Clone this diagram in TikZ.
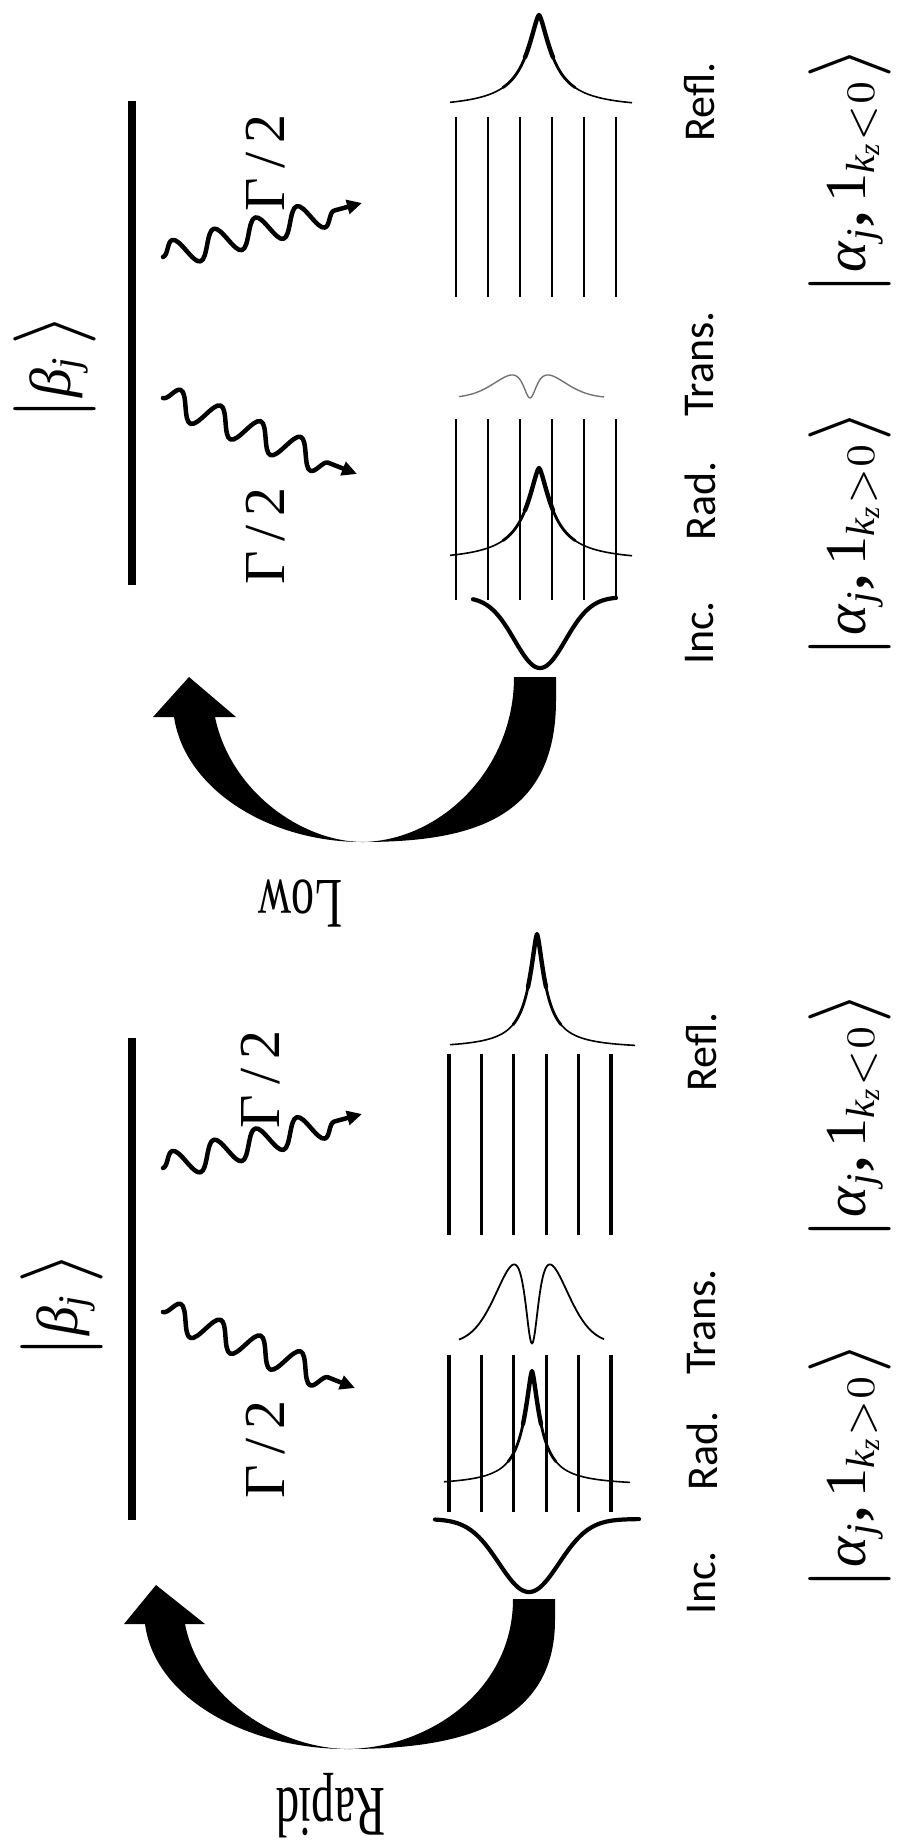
\documentclass[tikz,border=0pt]{standalone}
\usepackage{amsmath}
\usepackage{graphicx}
\usepackage{fontspec}
\setmainfont{Liberation Serif}
\newfontfamily\labfont{Carlito}
\usetikzlibrary{decorations.pathmorphing,arrows.meta}
\newcommand{\fsz}[1]{\fontsize{#1}{#1}\selectfont}
% ket delimiters, set at 10pt and enlarged
\newcommand{\kbar}{\raisebox{-0.9pt}{\scalebox{1.42}{$|$}}}
\newcommand{\kang}{\raisebox{-0.9pt}{\scalebox{1.42}{$\rangle$}}}

\begin{document}
\begin{tikzpicture}[x=1pt,y=-1pt,line join=round,
  declare function={cusp(\x,\g)=1/(1+(abs(\x)/\g)*sqrt(abs(\x)/\g));},
  level/.style={line width=8pt},
  mirror/.style={line width=2.6pt},
  photon/.style={line width=4.5pt,line cap=round,decorate,
    decoration={snake,segment length=43pt,amplitude=14pt,post length=16pt},
    -{Triangle[length=15pt,width=14pt]}},
  tail/.style={line width=1.6pt},
  mid/.style={line width=2.8pt,line cap=round},
  crest/.style={line width=4.4pt,line cap=round},
  dipline/.style={line width=4.2pt,line cap=round},
  lab/.style={font=\labfont\fsz{44},inner sep=0pt,rotate=90},
  gam/.style={font=\fsz{58},inner sep=0pt,rotate=90},
  ket/.style={font=\fsz{10},inner sep=0pt,rotate=90,scale=5.8},
  speed/.style={font=\fsz{46},inner sep=0pt,rotate=180,yscale=1.55},
]
\useasboundingbox (0,0) rectangle (899,1843);

% ================= upper panel (slow decay) =================
% excited level
\draw[level] (132,101) -- (132,585);
\node[ket] (b1) at (55,367) {\kbar\textit{β}$_{\textit{j}}$\,\kang};

% emitted photons
\coordinate (p1a) at (163,257); \coordinate (p1b) at (362,203);
\coordinate (p2a) at (163,398); \coordinate (p2b) at (357,474);
\draw[photon] (p1a) -- (p1b);
\draw[photon] (p2a) -- (p2b);
\node[gam] (g1) at (266,163) {Γ\,/\,2};
\node[gam] (g2) at (266,536) {Γ\,/\,2};

% mirror layers
\foreach \k in {0,...,5} {
  \draw[mirror] ({456+32*\k},117) -- ({456+32*\k},297);
  \draw[mirror] ({456+32*\k},419) -- ({456+32*\k},600);
}

% reflected spectrum
\draw[tail] plot[domain=-89:93,samples=183] ({539+\x},{109-94*cusp(\x,16)});
\draw[mid] plot[domain=-36:36,samples=73] ({539+\x},{109-94*cusp(\x,16)});
\draw[crest] plot[domain=-14:14,samples=29] ({539+\x},{109-94*cusp(\x,16)});
% transmitted spectrum
\draw[line width=1.4pt,black!55] plot[domain=-71:74,samples=146]
  ({530+\x},{398-35.4*exp(-\x*\x/1568)*(\x*\x/(\x*\x+81))});
% radiated spectrum
\draw[tail] plot[domain=-89:93,samples=183] ({539+\x},{562-94*cusp(\x,16)});
\draw[mid] plot[domain=-36:36,samples=73] ({539+\x},{562-94*cusp(\x,16)});
\draw[crest] plot[domain=-14:14,samples=29] ({539+\x},{562-94*cusp(\x,16)});
% incident spectrum
\draw[dipline] plot[domain=473:616,samples=144] (\x,{597+71*exp(-(\x-540)*(\x-540)/1300)});

% pumping arrow
\fill (556,677) -- (556,700) .. controls (556,820) and (470,842) .. (362,842)
  .. controls (270,842) and (185,790) .. (174,717) -- (153,717) -- (189,677)
  -- (236,717) -- (215,717) .. controls (230,790) and (300,841) .. (362,842)
  .. controls (440,841) and (514,770) .. (514,677) -- cycle;
\node[speed] (low) at (300,903) {Low};

% labels
\node[lab] (r1) at (700,102) {Refl.};
\node[lab] (t1) at (700,364) {Trans.};
\node[lab] (d1) at (700,501) {Rad.};
\node[lab] (i1) at (700,633) {Inc.};
\node[ket] (am1) at (850,171) {\kbar\textit{α}$_{\textit{j}}$\textbf{,}\,1$_{\textit{k}_{\textit{z}}<0}$\kang};
\node[ket] (ap1) at (850,534) {\kbar\textit{α}$_{\textit{j}}$\textbf{,}\,1$_{\textit{k}_{\textit{z}}>0}$\kang};

% ================= lower panel (rapid decay) =================
\draw[level] (132,1038) -- (132,1520);
\node[ket] (b2) at (62,1305) {\kbar\textit{β}$_{\textit{j}}$\,\kang};

\coordinate (q1a) at (163,1168); \coordinate (q1b) at (362,1114);
\coordinate (q2a) at (163,1312); \coordinate (q2b) at (355,1388);
\draw[photon] (q1a) -- (q1b);
\draw[photon] (q2a) -- (q2b);
\node[gam] (g3) at (261,1079) {Γ\,/\,2};
\node[gam] (g4) at (266,1449) {Γ\,/\,2};

\foreach \k in {0,...,5} {
  \draw[mirror,line width=3.2pt] ({449+32.4*\k},1054) -- ({449+32.4*\k},1235);
  \draw[mirror,line width=3.2pt] ({449+32.4*\k},1355) -- ({449+32.4*\k},1512);
}

% reflected spectrum
\draw[tail] plot[domain=-87:98,samples=186] ({537+\x},{1049-115*cusp(\x,10)});
\draw[mid] plot[domain=-24:24,samples=49] ({537+\x},{1049-115*cusp(\x,10)});
\draw[crest] plot[domain=-9:9,samples=19] ({537+\x},{1049-115*cusp(\x,10)});
% transmitted spectrum
\draw[line width=1.8pt] plot[domain=-73:72,samples=146]
  ({532+\x},{1343.5-121.5*exp(-\x*\x/1568)*(\x*\x/(\x*\x+81))});
% radiated spectrum
\draw[tail] plot[domain=-88:98,samples=187] ({532+\x},{1486-115*cusp(\x,10)});
\draw[mid] plot[domain=-24:24,samples=49] ({532+\x},{1486-115*cusp(\x,10)});
\draw[crest] plot[domain=-9:9,samples=19] ({532+\x},{1486-115*cusp(\x,10)});
% incident spectrum
\draw[dipline] plot[domain=435:639,samples=205] (\x,{1519+73*exp(-(\x-529)*(\x-529)/1800)});

% pumping arrow
\fill (555,1599) -- (555,1620) .. controls (555,1730) and (450,1749) .. (347,1749)
  .. controls (250,1749) and (155,1700) .. (145,1624) -- (124,1624) -- (156,1585)
  -- (205,1624) -- (185,1624) .. controls (200,1700) and (280,1748) .. (347,1749)
  .. controls (430,1748) and (513,1690) .. (513,1599) -- cycle;
\node[speed] (rapid) at (331,1806) {Rapid};

\node[lab] (r2) at (702,1052) {Refl.};
\node[lab] (t2) at (702,1322) {Trans.};
\node[lab] (d2) at (702,1451) {Rad.};
\node[lab] (i2) at (702,1583) {Inc.};
\node[ket] (am2) at (850,1116) {\kbar\textit{α}$_{\textit{j}}$\textbf{,}\,1$_{\textit{k}_{\textit{z}}<0}$\kang};
\node[ket] (ap2) at (850,1466) {\kbar\textit{α}$_{\textit{j}}$\textbf{,}\,1$_{\textit{k}_{\textit{z}}>0}$\kang};
\end{tikzpicture}
\end{document}
